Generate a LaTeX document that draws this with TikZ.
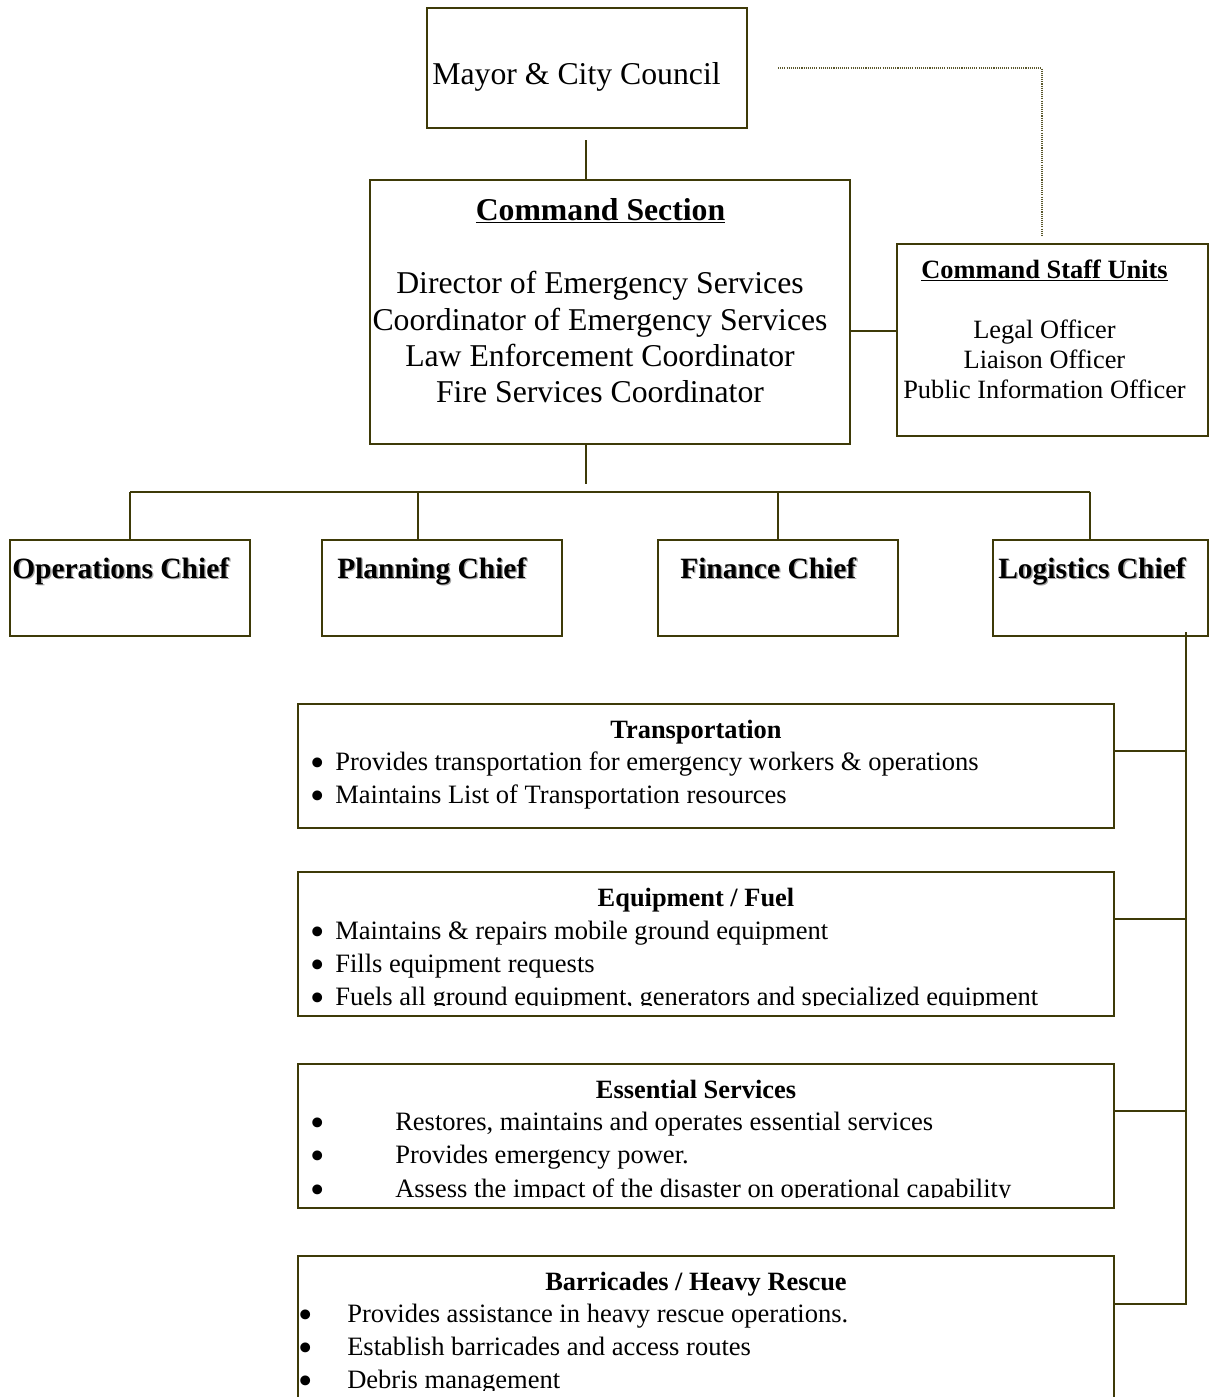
\documentclass[tikz,border=0pt]{standalone}
\usepackage{fontspec}
\setmainfont{Liberation Serif}
\definecolor{linec}{RGB}{62,58,8}
\newcommand\shd[1]{\makebox[0pt][l]{\hspace{1pt}\raisebox{-1pt}{\textcolor{black!35}{#1}}}#1}
\newcommand\bigbul{\smash{\raisebox{-4.6pt}{\scalebox{1.55}{\textbullet}}}}
\tikzset{
  bx/.style={draw=linec, line width=1.4pt, inner sep=0pt},
  con/.style={draw=linec, line width=1.4pt},
  dotcon/.style={draw=linec!85, line width=0.9pt, dash pattern=on 0.8pt off 0.8pt},
  bigtxt/.style={font=\fontsize{23.8}{27}\selectfont, anchor=base, inner sep=0pt},
  bigbold/.style={font=\fontsize{23.8}{27}\selectfont\bfseries, anchor=base, inner sep=0pt},
  medtxt/.style={font=\fontsize{19.8}{24}\selectfont, anchor=base, inner sep=0pt},
  medbold/.style={font=\fontsize{19.8}{24}\selectfont\bfseries, anchor=base, inner sep=0pt},
  chieftxt/.style={font=\fontsize{22.1}{26}\selectfont\bfseries, anchor=base west, inner sep=0pt},
  itemtxt/.style={font=\fontsize{19.9}{24}\selectfont, anchor=base west, inner sep=0pt},
}
\begin{document}
\begin{tikzpicture}[x=0.75pt, y=-0.75pt]
\clip (0,0) rectangle (1210,1397);
\fill[white] (0,0) rectangle (1210,1397);

% boxes
\node[bx, minimum width=240pt, minimum height=90pt] (mayor) at (587,68) {};
\node[bx, minimum width=360pt, minimum height=198pt] (cmd) at (610,312) {};
\node[bx, minimum width=233.25pt, minimum height=144pt] (staff) at (1052.5,340) {};
\node[bx, minimum width=180pt, minimum height=72pt] (ops) at (130,588) {};
\node[bx, minimum width=180pt, minimum height=72pt] (plan) at (442,588) {};
\node[bx, minimum width=180pt, minimum height=72pt] (fin) at (778,588) {};
\node[bx, minimum width=161.25pt, minimum height=72pt] (logi) at (1100.5,588) {};
\node[bx, minimum width=612pt, minimum height=93pt] (trans) at (706,766) {};
\node[bx, minimum width=612pt, minimum height=108pt] (equip) at (706,944) {};
\node[bx, minimum width=612pt, minimum height=108pt] (ess) at (706,1136) {};
\node[bx, minimum width=612pt, minimum height=138pt] (barr) at (706,1348) {};

% texts
\node[bigtxt] (tmayor) at (576.5,84) {Mayor \& City Council};
\node[bigbold] (tcmd) at (600.5,220) {\underline{Command Section}};
\node[bigtxt] (tc1) at (600,293) {Director of Emergency Services};
\node[bigtxt] (tc2) at (600,330) {Coordinator of Emergency Services};
\node[bigtxt] (tc3) at (600,366) {Law Enforcement Coordinator};
\node[bigtxt] (tc4) at (600,402) {Fire Services Coordinator};

\node[medbold] (tstaff) at (1044.5,278) {\underline{Command Staff Units}};
\node[medtxt] (ts1) at (1044.5,338) {Legal Officer};
\node[medtxt] (ts2) at (1044.5,368) {Liaison Officer};
\node[medtxt] (ts3) at (1044.5,398) {Public Information Officer};

\node[chieftxt] (tops) at (12,578) {\shd{Operations Chief}};
\node[chieftxt] (tplan) at (337,578) {\shd{Planning Chief}};
\node[chieftxt] (tfin) at (680,578) {\shd{Finance Chief}};
\node[chieftxt] (tlog) at (998,578) {\shd{Logistics Chief}};

\node[medbold] (ttrans) at (696,738) {Transportation};
\node[itemtxt] (tt1) at (310,770) {\makebox[18.75pt][l]{\bigbul}Provides transportation for emergency workers \& operations};
\node[itemtxt] (tt2) at (310,803) {\makebox[18.75pt][l]{\bigbul}Maintains List of Transportation resources};

\node[medbold] (tequip) at (696,906) {Equipment / Fuel};
\begin{scope}
\clip (298,872) rectangle (1114,1005);
\node[itemtxt] (te1) at (310,939) {\makebox[18.75pt][l]{\bigbul}Maintains \& repairs mobile ground equipment};
\node[itemtxt] (te2) at (310,972) {\makebox[18.75pt][l]{\bigbul}Fills equipment requests};
\node[itemtxt] (te3) at (310,1005) {\makebox[18.75pt][l]{\bigbul}Fuels all ground equipment, generators and specialized equipment};
\end{scope}

\node[medbold] (tess) at (696,1098) {Essential Services};
\begin{scope}
\clip (298,1064) rectangle (1114,1197);
\node[itemtxt] (tes1) at (310,1130) {\makebox[63.75pt][l]{\bigbul}Restores, maintains and operates essential services};
\node[itemtxt] (tes2) at (310,1163) {\makebox[63.75pt][l]{\bigbul}Provides emergency power.};
\node[itemtxt] (tes3) at (310,1197) {\makebox[63.75pt][l]{\bigbul}Assess the impact of the disaster on operational capability};
\end{scope}

\node[medbold] (tbarr) at (696,1290) {Barricades / Heavy Rescue};
\begin{scope}
\clip (290,1256) rectangle (1114,1390);
\node[itemtxt] (tb1) at (298,1322) {\makebox[36.75pt][l]{\bigbul}Provides assistance in heavy rescue operations.};
\node[itemtxt] (tb2) at (298,1355) {\makebox[36.75pt][l]{\bigbul}Establish barricades and access routes};
\node[itemtxt] (tb3) at (298,1388) {\makebox[36.75pt][l]{\bigbul}Debris management};
\end{scope}

% connectors
\coordinate (m1) at (586,140);
\draw[con] (m1) -- (m1 |- cmd.north);
\coordinate (d0) at (778,68);
\coordinate (d1) at (1042,236);
\draw[dotcon] (d0) -| (d1);
\coordinate (cs) at (850,331);
\draw[con] (cs) -- (cs -| staff.west);
\coordinate (cb) at (586,484);
\draw[con] (cb |- cmd.south) -- (cb);
\coordinate (b1) at (130,492);
\coordinate (b2) at (418,492);
\coordinate (b3) at (778,492);
\coordinate (b4) at (1090,492);
\draw[con] (b1) -- (b4);
\draw[con] (b1) -- (b1 |- ops.north);
\draw[con] (b2) -- (b2 |- plan.north);
\draw[con] (b3) -- (b3 |- fin.north);
\draw[con] (b4) -- (b4 |- logi.north);
\coordinate (lv) at (1186,632);
\coordinate (r1) at (1114,751);
\coordinate (r2) at (1114,919);
\coordinate (r3) at (1114,1111);
\coordinate (r4) at (1114,1304);
\draw[con] (lv) -- (lv |- r4) -- (r4);
\draw[con] (r1) -- (r1 -| lv);
\draw[con] (r2) -- (r2 -| lv);
\draw[con] (r3) -- (r3 -| lv);
\end{tikzpicture}
\end{document}
